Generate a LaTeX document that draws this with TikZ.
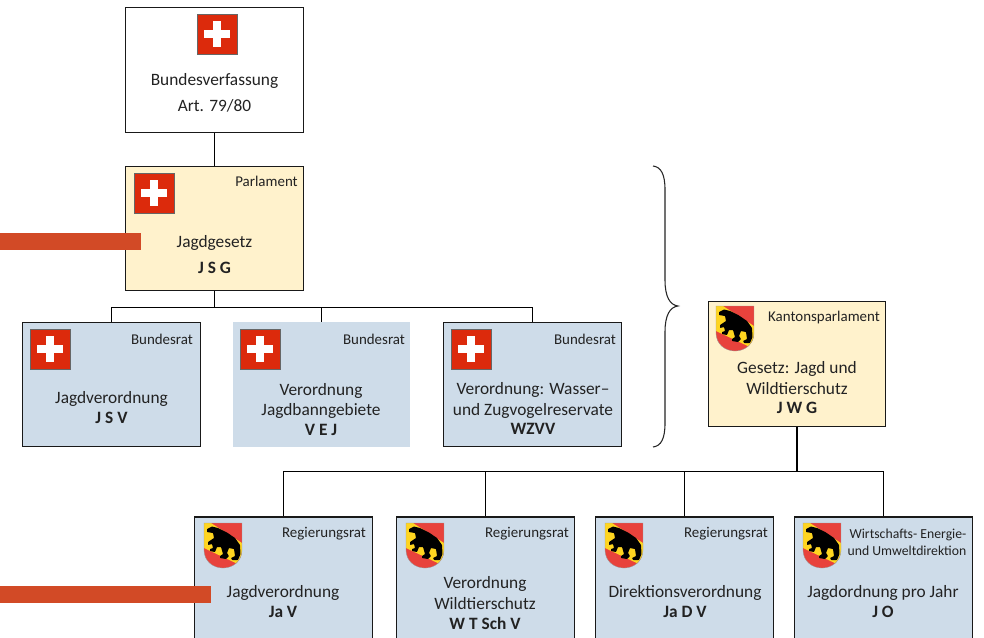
\documentclass[tikz,border=0pt]{standalone}
\usepackage{fontspec}
\setmainfont{Carlito}
\definecolor{cyellow}{HTML}{FFF2CC}
\definecolor{cblue}{HTML}{CEDCE9}
\definecolor{cbar}{HTML}{D24A26}
\definecolor{cflag}{HTML}{DC2A0C}
\definecolor{cshred}{HTML}{E8423C}
\definecolor{cshyel}{HTML}{FFD520}
\definecolor{ctext}{HTML}{222222}
\tikzset{
  x=0.75pt,y=-0.75pt,
  boxbase/.style={minimum width=133pt,minimum height=93.5pt,inner sep=0pt},
  plainbox/.style={boxbase,draw=black!90,line width=0.8pt,fill=white},
  gelb/.style={boxbase,draw=black!90,line width=0.8pt,fill=cyellow},
  blau/.style={boxbase,draw=black!90,line width=0.8pt,fill=cblue},
  blauohne/.style={boxbase,fill=cblue},
  tief/.style={minimum height=120pt},
  lbl/.style={inner sep=0pt,font=\fontsize{13}{13}\selectfont,text=ctext},
  fett/.style={inner sep=0pt,text=ctext,font=\fontsize{13}{13}\selectfont\bfseries},
  klein/.style={inner sep=0pt,font=\fontsize{11.2}{11.2}\selectfont,text=ctext},
  kleiner/.style={inner sep=0pt,font=\fontsize{10.3}{10.3}\selectfont,text=ctext},
  conn/.style={line width=0.7pt,black},
  balken/.style={fill=cbar,draw=none},
  pics/flagge/.style={code={
    \fill[cflag] (0,0) rectangle (40,40);
    \draw[black!60,line width=0.3pt] (0,0) rectangle (40,40);
    \fill[white] (16,7) rectangle (24,33);
    \fill[white] (7,16) rectangle (33,24);
  }},
  pics/baer/.style={code={
    \begin{scope}
      \clip (0,0) -- (38,0) -- (38,27) .. controls (38,38) and (29,45) .. (19,45) .. controls (9,45) and (0,38) .. (0,27) -- cycle;
      \fill[cshred] (0,0) rectangle (38,46);
      \fill[cshyel] (0,0) -- (7,0) -- (38,20) -- (38,43) -- (0,25) -- cycle;
    \end{scope}
    \fill[black,rounded corners=0.4pt] (3,6) -- (8,3.5) -- (14,5) -- (23,9.5) -- (31,15) -- (36,22) -- (36.5,31)
      -- (34,37) -- (28,37) -- (27,35) -- (31,33) -- (30,26) -- (25,25) -- (23,30) -- (25,33) -- (22,36) -- (16,35) -- (16,33) -- (19,31)
      -- (17,24) -- (13,24) -- (11,29) -- (6,28) -- (6,26) -- (9,25) -- (8,21) -- (4,22) -- (4,19) -- (10,15) -- (9,10) -- (3,9) -- cycle;
    \draw[black!40,line width=0.25pt] (0,0) -- (38,0) -- (38,27) .. controls (38,38) and (29,45) .. (19,45) .. controls (9,45) and (0,38) .. (0,27) -- cycle;
  }},
}
\begin{document}
\begin{tikzpicture}
\useasboundingbox (0,0) rectangle (984,638);
\clip (0,0) rectangle (984,638);
\fill[white] (0,0) rectangle (984,638);
% boxes
\node[plainbox] (verf) at (214.5,70) {};
\node[gelb] (parl) at (214.5,228.5) {};
\node[blau] (jsv) at (111.5,384.5) {};
\node[blauohne] (vej) at (321.5,384.5) {};
\node[blau] (wzvv) at (532.5,384.5) {};
\node[gelb] (jwg) at (797,364) {};
\node[blau,tief] (javb) at (283.5,597) {};
\node[blau,tief] (wtsch) at (485.5,597) {};
\node[blau,tief] (jadv) at (684.5,597) {};
\node[blau,tief] (jo) at (883.5,597) {};
% connectors
\coordinate (busbund) at (214.5,307);
\coordinate (buskanton) at (797,471);
\draw[conn] (verf.south) -- (parl.north);
\draw[conn] (parl.south) -- (busbund);
\draw[conn] (busbund) -| (jsv.north);
\draw[conn] (busbund) -| (vej.north);
\draw[conn] (busbund) -| (wzvv.north);
\draw[conn,line width=1.1pt] (jwg.south) -- (buskanton);
\draw[conn] (buskanton) -| (javb.north);
\draw[conn] (buskanton) -| (wtsch.north);
\draw[conn] (buskanton) -| (jadv.north);
\draw[conn] (buskanton) -| (jo.north);
% brace
\coordinate (bracetop) at (653,166);
\coordinate (bracetip) at (678,306);
\coordinate (bracebot) at (653,447);
\draw[line width=0.8pt,black!85] (bracetop) .. controls (661,167) and (665,174) .. (665,190)
  -- (665,280) .. controls (665,297) and (670,305) .. (bracetip)
  .. controls (670,307) and (665,315) .. (665,332)
  -- (665,423) .. controls (665,439) and (661,446) .. (bracebot);
% emblems
\pic at (197,14.5) {flagge};
\pic at (134,173) {flagge};
\pic at (30,329) {flagge};
\pic at (240,329) {flagge};
\pic at (451,329) {flagge};
\pic at (716,306) {baer};
\pic at (204,523) {baer};
\pic at (406,523) {baer};
\pic at (605,523) {baer};
\pic at (803,523) {baer};
% bars
\fill[balken] (0,233) rectangle (140.5,249.5);
\fill[balken] (0,586) rectangle (211,602.5);
% text
\node[lbl] (t1) at (214.5,80.5) {Bundesverfassung};
\node[lbl] (t2) at (214.5,105.5) {Art. 79/80};
\node[klein] (t3) at (266.5,181.5) {Parlament};
\node[lbl] (t4) at (214.5,242.5) {Jagdgesetz};
\node[fett] (t5) at (214.5,268) {J S G};
\node[klein] (t6) at (162,339.5) {Bundesrat};
\node[lbl] (t7) at (111.5,398.5) {Jagdverordnung};
\node[fett] (t8) at (111.5,418) {J S V};
\node[klein] (t9) at (374,339.5) {Bundesrat};
\node[lbl] (t10) at (321,390.5) {Verordnung};
\node[lbl] (t11) at (321,410.5) {Jagdbanngebiete};
\node[fett] (t12) at (321,430) {V E J};
\node[klein] (t13) at (585,339.5) {Bundesrat};
\node[lbl] (t14) at (533,389.5) {Verordnung: Wasser–};
\node[lbl] (t15) at (533,410.5) {und Zugvogelreservate};
\node[fett] (t16) at (533,429) {WZVV};
\node[klein] (t17) at (824,317.5) {Kantonsparlament};
\node[lbl] (t18) at (797,368.5) {Gesetz: Jagd und};
\node[lbl] (t19) at (797,388.5) {Wildtierschutz};
\node[fett] (t20) at (797,408) {J W G};
\node[klein] (t21) at (324,533.5) {Regierungsrat};
\node[lbl] (t22) at (283,592.5) {Jagdverordnung};
\node[fett] (t23) at (283,612) {Ja V};
\node[klein] (t24) at (527,533.5) {Regierungsrat};
\node[lbl] (t25) at (485,583.5) {Verordnung};
\node[lbl] (t26) at (485,603.5) {Wildtierschutz};
\node[fett] (t27) at (485,623) {W T Sch V};
\node[klein] (t28) at (726,533.5) {Regierungsrat};
\node[lbl] (t29) at (685,592.5) {Direktionsverordnung};
\node[fett] (t30) at (685,612) {Ja D V};
\node[kleiner] (t31) at (908,534.5) {Wirtschafts- Energie-};
\node[kleiner] (t32) at (907,550.5) {und Umweltdirektion};
\node[lbl] (t33) at (883,592.5) {Jagdordnung pro Jahr};
\node[fett] (t34) at (883,612) {J O};
\end{tikzpicture}
\end{document}
